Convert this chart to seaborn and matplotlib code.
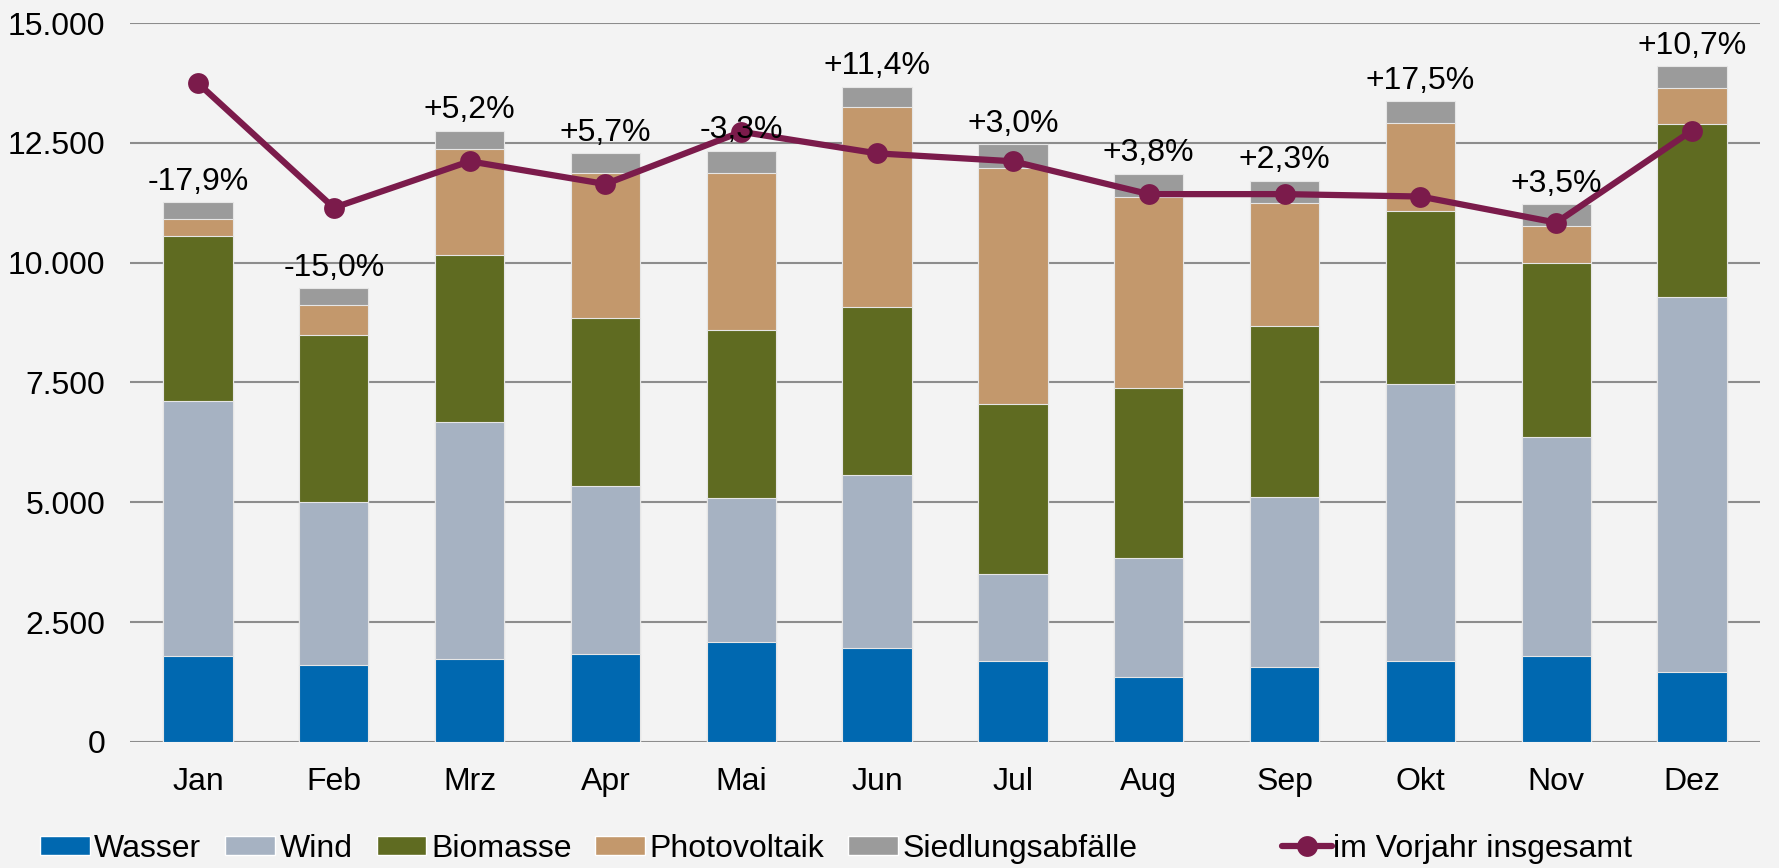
import seaborn as sns
import pandas as pd
import matplotlib.pyplot as plt
from matplotlib.patches import Patch
from matplotlib.lines import Line2D

months = ['Jan', 'Feb', 'Mrz', 'Apr', 'Mai', 'Jun', 'Jul', 'Aug', 'Sep', 'Okt', 'Nov', 'Dez']
wasser = [1800, 1610, 1730, 1845, 2080, 1965, 1680, 1350, 1560, 1680, 1800, 1465]
wind = [5320, 3405, 4940, 3500, 3005, 3595, 1820, 2485, 3550, 5795, 4565, 7810]
biomasse = [3430, 3480, 3480, 3505, 3505, 3525, 3550, 3550, 3570, 3595, 3620, 3620]
photovoltaik = [355, 615, 2225, 3030, 3290, 4165, 4920, 3995, 2555, 1845, 780, 755]
siedlung = [355, 355, 380, 405, 450, 425, 500, 475, 475, 450, 450, 450]
vorjahr = [13745, 11145, 12115, 11640, 12730, 12280, 12115, 11430, 11430, 11380, 10835, 12755]
change = ['-17,9%', '-15,0%', '+5,2%', '+5,7%', '-3,3%', '+11,4%', '+3,0%', '+3,8%', '+2,3%', '+17,5%', '+3,5%', '+10,7%']

names = ['Wasser', 'Wind', 'Biomasse', 'Photovoltaik', 'Siedlungsabfälle']
colors = ['#0068b0', '#a6b2c2', '#5f6b21', '#c3986c', '#9b9b9b']
line_color = '#7b1b4b'

sns.set_style('white')
plt.rcParams['font.family'] = ['Liberation Sans', 'DejaVu Sans']
plt.rcParams['text.color'] = 'black'
plt.rcParams['xtick.color'] = 'black'
plt.rcParams['ytick.color'] = 'black'

df = pd.DataFrame({'Monat': months, 'Wasser': wasser, 'Wind': wind, 'Biomasse': biomasse,
                   'Photovoltaik': photovoltaik, 'Siedlungsabfälle': siedlung})
cum = df[names].cumsum(axis=1)

fig = plt.figure(figsize=(17.79, 8.68), dpi=100, facecolor='#f3f3f3')
ax = fig.add_axes([0.0731, 0.1452, 0.9162, 0.8283])
ax.set_facecolor('#f3f3f3')

# stacked bars: draw cumulative totals from the top layer down
for name, col in reversed(list(zip(names, colors))):
    sns.barplot(x=df['Monat'], y=cum[name], color=col, width=0.51, ax=ax,
                saturation=1, edgecolor='#e6e6e6', linewidth=0.8, zorder=2)

sns.lineplot(x=list(range(12)), y=vorjahr, ax=ax, color=line_color, lw=4.5,
             marker='o', markersize=15, markeredgewidth=0, zorder=4)

totals = cum['Siedlungsabfälle'].tolist()
for i, (t, lab) in enumerate(zip(totals, change)):
    ax.annotate(lab, (i, t), xytext=(0, 4), textcoords='offset points',
                ha='center', va='bottom', fontsize=23, zorder=5)

ax.set_xlim(-0.5, 11.5)
ax.set_ylim(0, 15000)
ax.set_yticks(range(0, 15001, 2500))
ax.set_yticklabels(['0', '2.500', '5.000', '7.500', '10.000', '12.500', '15.000'])
ax.yaxis.grid(True, color='#8c8c8c', lw=1.5, zorder=0)
ax.set_axisbelow(True)
ax.tick_params(axis='both', labelsize=23, length=0)
ax.tick_params(axis='x', pad=18)
ax.tick_params(axis='y', pad=18)
ax.set_xlabel('')
ax.set_ylabel('')
sns.despine(ax=ax, left=True, bottom=True, top=True, right=True)

handles = [Patch(facecolor=c, label=n) for n, c in zip(names, colors)]
fig.legend(handles=handles, loc='center left', bbox_to_anchor=(0.0225, 0.022), ncol=5,
           frameon=False, fontsize=23, handlelength=1.55, handleheight=0.5,
           handletextpad=0.15, columnspacing=0.75, borderpad=0, borderaxespad=0)
line_h = Line2D([], [], color=line_color, lw=4.5, marker='o', markersize=15, markeredgewidth=0)
fig.legend(handles=[line_h], labels=['im Vorjahr insgesamt'], loc='center left',
           bbox_to_anchor=(0.7207, 0.022), frameon=False, fontsize=23,
           handlelength=1.55, handletextpad=0.05, borderpad=0, borderaxespad=0)

fig.savefig('out.png', dpi=100, facecolor=fig.get_facecolor())
